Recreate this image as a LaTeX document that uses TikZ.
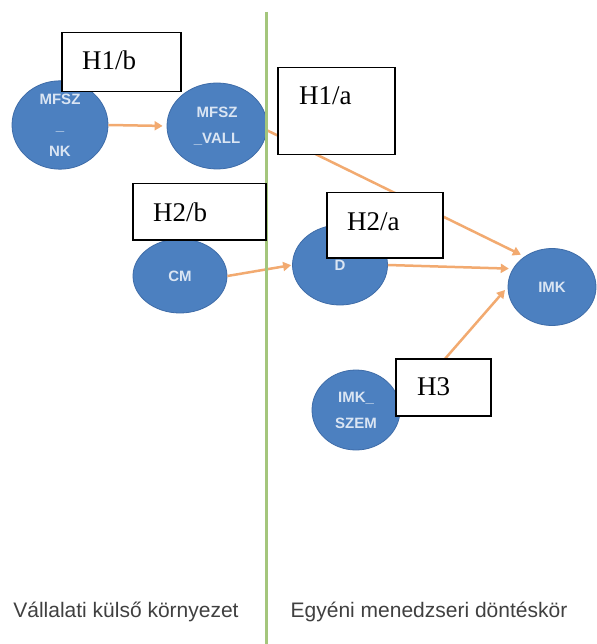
\documentclass[tikz,border=0pt]{standalone}
\usepackage{fontspec}
\setmainfont{Liberation Serif}
\newfontfamily\arialf{Liberation Sans}
\usetikzlibrary{shapes.geometric,arrows.meta}
\definecolor{ellfill}{RGB}{76,128,192}
\definecolor{elldraw}{RGB}{62,108,168}
\definecolor{elltext}{RGB}{218,229,243}
\definecolor{arrowc}{RGB}{242,170,112}
\definecolor{greenl}{RGB}{164,198,124}
\definecolor{graytext}{RGB}{64,64,64}
\tikzset{
  ell/.style={ellipse, fill=ellfill, draw=elldraw, line width=0.8pt, inner sep=0pt,
    text=elltext, align=center, font=\arialf\bfseries\fontsize{15}{26}\selectfont},
  hbox/.style={draw=black, fill=white, line width=1.5pt, inner sep=0pt, anchor=north west},
  htext/.style={anchor=base west, inner sep=0pt, font=\fontsize{27}{30}\selectfont},
  conn/.style={draw=arrowc, line width=2.5pt, -{Triangle[length=8pt,width=9pt]}, shorten >=4pt},
  bottomlbl/.style={anchor=base, inner sep=0pt, text=graytext, font=\arialf\fontsize{21}{24}\selectfont}
}
\begin{document}
\begin{tikzpicture}[x=1pt,y=-1pt]
\useasboundingbox (0,0) rectangle (596,644);
\fill[white] (0,0) rectangle (596,644);
% ellipses
\node[ell, minimum width=96pt, minimum height=80pt] (nk) at (60,125) {MFSZ\\\_\\NK};
\node[ell, minimum width=100pt, minimum height=86pt] (vall) at (217,126) {MFSZ\\\_VALL};
\node[ell, minimum width=94pt, minimum height=74pt] (cm) at (180,276) {CM};
\node[ell, minimum width=95pt, minimum height=80pt] (d) at (340,265) {D};
\node[ell, minimum width=88pt, minimum height=77pt] (imk) at (552,287) {IMK};
\node[ell, minimum width=88pt, minimum height=80pt] (szem) at (356,410) {IMK\_\\SZEM};
% connectors
\draw[conn] (nk.east) -- (vall.west);
\draw[conn] (vall.-5) -- (imk.132);
\draw[conn, shorten >=1pt] (cm.east) -- (d.west);
\draw[conn] (d.east) -- (imk.155);
\draw[conn] (szem.east) -- (imk.west);
% divider
\coordinate (gtop) at (266,12);
\coordinate (gbot) at (266,644);
\draw[greenl, line width=3pt] (gtop) -- (gbot);
% boxes
\node[hbox, minimum width=119pt, minimum height=59pt] (h1b) at (61,32) {};
\node[htext] (h1bt) at (82,70) {H1/b};
\node[hbox, minimum width=117pt, minimum height=87pt] (h1a) at (277,67) {};
\node[htext] (h1at) at (299,105) {H1/a};
\node[hbox, minimum width=133pt, minimum height=56pt] (h2b) at (132,183) {};
\node[htext] (h2bt) at (153,221) {H2/b};
\node[hbox, minimum width=116pt, minimum height=65pt] (h2a) at (326,192) {};
\node[htext] (h2at) at (347,230) {H2/a};
\node[hbox, minimum width=95pt, minimum height=57pt] (h3) at (395,358) {};
\node[htext] (h3t) at (417,395) {H3};
% bottom labels
\node[bottomlbl] (left) at (126,617) {Vállalati külső környezet};
\node[bottomlbl] (right) at (429,617) {Egyéni menedzseri döntéskör};
\end{tikzpicture}
\end{document}
